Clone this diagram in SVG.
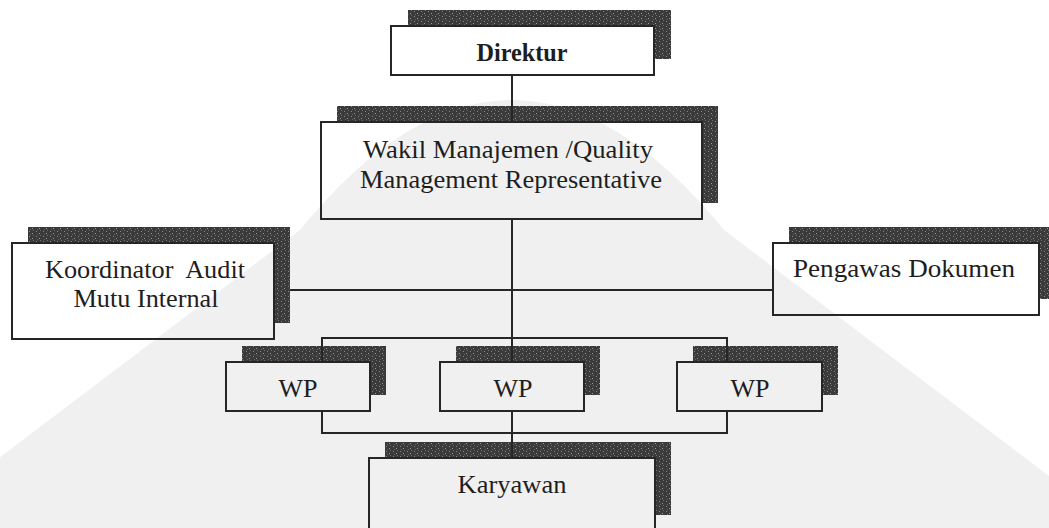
<svg xmlns="http://www.w3.org/2000/svg" width="1049" height="528" viewBox="0 0 1049 528">
  <defs>
    <pattern id="speckle" width="7" height="5" patternUnits="userSpaceOnUse">
      <rect width="7" height="5" fill="#3a3a3a"/>
      <rect x="1" y="1" width="1" height="1" fill="#8a8a8a"/>
      <rect x="4" y="3" width="1" height="1" fill="#9a9a9a"/>
      <rect x="5" y="0" width="1" height="1" fill="#707070"/>
      <rect x="2" y="4" width="1" height="1" fill="#666"/>
    </pattern>
    <style>
      .box { fill: none; stroke: #262626; stroke-width: 2; }
      .shadow { fill: url(#speckle); }
      .lbl { font-family: "Liberation Serif", "Times New Roman", serif; font-size: 25px; fill: #1e1e1e; text-anchor: middle; }
      .conn line { stroke: #262626; stroke-width: 2; }
    </style>
  </defs>
  <rect width="1049" height="528" fill="#ffffff"/>
  <g id="watermark">
    <path d="M -116 545 L 300 230 Q 512 -30 724 230 L 1140 545 Z" fill="#f0f0f0"/>
  </g>
  <g id="direktur">
    <path class="shadow" d="M 408 10 H 671 V 59 H 655 V 26 H 408 Z"/>
    <rect class="box" x="391" y="26" width="263" height="49" style="fill:#ffffff"/>
    <text class="lbl" x="522" y="61" font-weight="bold" textLength="91" lengthAdjust="spacingAndGlyphs">Direktur</text>
  </g>
  <g id="wakil">
    <path class="shadow" d="M 337 106 H 718 V 203 H 702 V 122 H 337 Z"/>
    <rect class="box" x="321" y="122" width="381" height="97"/>
    <text class="lbl" x="508" y="158" textLength="290" lengthAdjust="spacingAndGlyphs">Wakil Manajemen /Quality</text>
    <text class="lbl" x="511" y="188" textLength="302" lengthAdjust="spacingAndGlyphs">Management Representative</text>
  </g>
  <g id="koordinator">
    <path class="shadow" d="M 28 227 H 290 V 323 H 274 V 243 H 28 Z"/>
    <rect class="box" x="12" y="243" width="262" height="96"/>
    <text class="lbl" x="145" y="278" xml:space="preserve" textLength="200" lengthAdjust="spacingAndGlyphs">Koordinator  Audit</text>
    <text class="lbl" x="146" y="307" textLength="145" lengthAdjust="spacingAndGlyphs">Mutu Internal</text>
  </g>
  <g id="pengawas">
    <path class="shadow" d="M 789 227 H 1055 V 299 H 1039 V 243 H 789 Z"/>
    <rect class="box" x="773" y="243" width="266" height="72"/>
    <text class="lbl" x="904" y="277" textLength="222" lengthAdjust="spacingAndGlyphs">Pengawas Dokumen</text>
  </g>
  <g id="wp1">
    <path class="shadow" d="M 242 346 H 386 V 395 H 370 V 362 H 242 Z"/>
    <rect class="box" x="226" y="362" width="144" height="49"/>
    <text class="lbl" x="298" y="397" textLength="39" lengthAdjust="spacingAndGlyphs">WP</text>
  </g>
  <g id="wp2">
    <path class="shadow" d="M 456 346 H 600 V 395 H 584 V 362 H 456 Z"/>
    <rect class="box" x="440" y="362" width="144" height="49"/>
    <text class="lbl" x="513" y="397" textLength="39" lengthAdjust="spacingAndGlyphs">WP</text>
  </g>
  <g id="wp3">
    <path class="shadow" d="M 693 346 H 838 V 395 H 822 V 362 H 693 Z"/>
    <rect class="box" x="677" y="362" width="145" height="49"/>
    <text class="lbl" x="750" y="397" textLength="39" lengthAdjust="spacingAndGlyphs">WP</text>
  </g>
  <g id="karyawan">
    <path class="shadow" d="M 385 442 H 671 V 515 H 655 V 458 H 385 Z"/>
    <rect class="box" x="369" y="458" width="286" height="80"/>
    <text class="lbl" x="512" y="493" textLength="109" lengthAdjust="spacingAndGlyphs">Karyawan</text>
  </g>
  <g id="connectors" class="conn">
    <line x1="512" y1="75" x2="512" y2="122"/>
    <line x1="512" y1="219" x2="512" y2="362"/>
    <line x1="290" y1="290" x2="773" y2="290"/>
    <line x1="321" y1="338" x2="728" y2="338"/>
    <line x1="322" y1="338" x2="322" y2="362"/>
    <line x1="727" y1="338" x2="727" y2="362"/>
    <line x1="321" y1="433" x2="728" y2="433"/>
    <line x1="322" y1="411" x2="322" y2="433"/>
    <line x1="727" y1="411" x2="727" y2="433"/>
    <line x1="512" y1="411" x2="512" y2="458"/>
  </g>
</svg>
